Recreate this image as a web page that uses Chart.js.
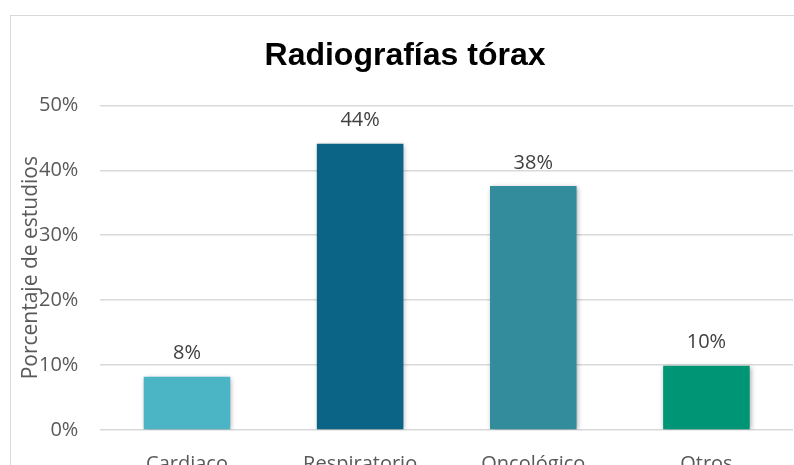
<!DOCTYPE html>
<html>
<head>
<meta charset="utf-8">
<script src="https://cdn.jsdelivr.net/npm/chart.js@4"></script>
<style>
  html, body { margin: 0; padding: 0; background: #fff; overflow: hidden; width: 794px; height: 465px; }
  #box { position: absolute; left: 10px; top: 15px; width: 800px; height: 513px; border-left: 1px solid #d9d9d9; border-top: 1px solid #d9d9d9; box-sizing: border-box; }
  #chart { display: block; }
</style>
</head>
<body>
<div id="box"><canvas id="chart" width="799" height="512"></canvas></div>
<script>
// datos del grafico
const categorias = ['Cardiaco', 'Respiratorio', 'Oncológico', 'Otros'];
const porcentajes = [8.2, 44.1, 37.6, 9.9];
const colores = ['#4bb4c5', '#0b6485', '#338c9b', '#009574'];
const ticksY = [0, 10, 20, 30, 40, 50];

const fuente = "'Open Sans', 'Noto Sans', sans-serif";

// etiquetas encima de las barras + titulo del eje
const etiquetas = {
  id: 'etiquetas',
  beforeDatasetsDraw(chart) {
    chart.ctx.save();
    chart.ctx.shadowColor = 'rgba(0,0,0,0.35)';
    chart.ctx.shadowBlur = 5;
    chart.ctx.shadowOffsetX = 1;
    chart.ctx.shadowOffsetY = 1;
  },
  afterDatasetsDraw(chart) {
    const ctx = chart.ctx;
    ctx.restore();
    ctx.save();
    ctx.font = '20px ' + fuente;
    ctx.fillStyle = '#404040';
    ctx.textAlign = 'center';
    ctx.textBaseline = 'bottom';
    chart.getDatasetMeta(0).data.forEach(function (bar, i) {
      ctx.fillText(Math.round(porcentajes[i]) + '%', bar.x, bar.y - 13);
    });
    // titulo eje Y (se superpone a las etiquetas como en el original)
    const area = chart.chartArea;
    ctx.font = '21px ' + fuente;
    ctx.translate(20, (area.top + area.bottom) / 2);
    ctx.rotate(-Math.PI / 2);
    ctx.textBaseline = 'middle';
    ctx.fillStyle = '#595959';
    ctx.fillText('Porcentaje de estudios', 0, 0);
    ctx.restore();
  },
};

const ctx = document.getElementById('chart');
new Chart(ctx, {
  type: 'bar',
  data: {
    labels: categorias,
    datasets: [{
      data: porcentajes,
      backgroundColor: colores,
      barPercentage: 0.5,
      categoryPercentage: 1,
    }],
  },
  options: {
    responsive: false,
    animation: false,
    layout: { padding: { left: 6, right: 17, top: 0, bottom: 38 } },
    scales: {
      x: {
        grid: { display: false },
        border: { display: false },
        ticks: { color: '#595959', font: { size: 20, family: fuente }, padding: 14 },
      },
      y: {
        min: 0,
        max: 50,
        afterBuildTicks(axis) {
          axis.ticks = ticksY.map(function (v) { return { value: v }; });
        },
        grid: { color: '#d9d9d9', lineWidth: 1.5, drawTicks: false },
        border: { display: false },
        ticks: {
          color: '#595959',
          font: { size: 20, family: fuente },
          padding: 22,
          callback: function (v) { return v + '%'; },
        },
      },
    },
    plugins: {
      legend: { display: false },
      tooltip: { enabled: false },
      title: {
        display: true,
        text: 'Radiografías tórax',
        color: '#000',
        font: { size: 32, weight: 'bold', family: "'Liberation Sans', Arial, sans-serif" },
        padding: { top: 21, bottom: 30 },
      },
    },
  },
  plugins: [etiquetas],
});
</script>
</body>
</html>
